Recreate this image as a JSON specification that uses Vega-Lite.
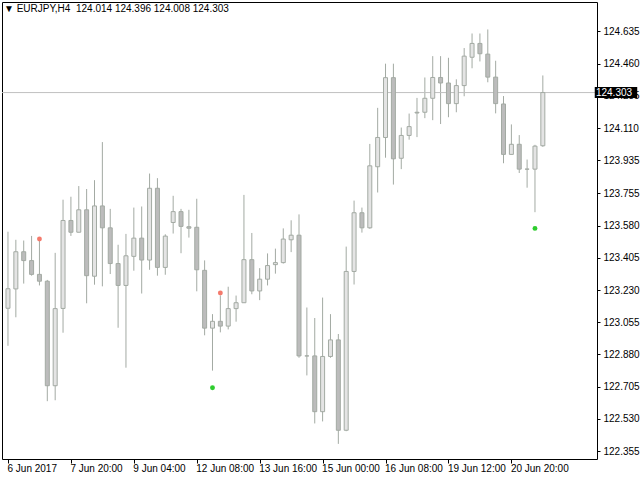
{
  "$schema": "https://vega.github.io/schema/vega-lite/v6.json",
  "width": 595,
  "height": 457,
  "autosize": {"type": "none"},
  "padding": {"left": 2, "top": 2, "right": 43, "bottom": 21},
  "background": "white",
  "title": {
    "text": "▼ EURJPY,H4\u00a0\u00a0124.014 124.396 124.008 124.303",
    "anchor": "start",
    "frame": "group",
    "offset": -12,
    "dx": 2,
    "font": "Liberation Sans",
    "fontSize": 10,
    "fontWeight": "normal",
    "color": "black"
  },
  "config": {
    "view": {"stroke": "black", "strokeWidth": 1},
    "axis": {
      "labelFont": "Liberation Sans",
      "labelFontSize": 10,
      "labelColor": "black",
      "tickColor": "black",
      "domain": false,
      "grid": false,
      "title": null,
      "labelOverlap": false,
      "labelFlush": false,
      "labelBound": false
    }
  },
  "datasets": {
    "bars": [
      {"i": 0, "o": 123.131, "h": 123.547, "l": 122.927, "c": 123.237},
      {"i": 1, "o": 123.236, "h": 123.503, "l": 123.082, "c": 123.438},
      {"i": 2, "o": 123.438, "h": 123.499, "l": 123.265, "c": 123.390},
      {"i": 3, "o": 123.390, "h": 123.524, "l": 123.308, "c": 123.315},
      {"i": 4, "o": 123.315, "h": 123.507, "l": 123.255, "c": 123.278},
      {"i": 5, "o": 123.278, "h": 123.285, "l": 122.626, "c": 122.710},
      {"i": 6, "o": 122.710, "h": 123.432, "l": 122.631, "c": 123.129},
      {"i": 7, "o": 123.130, "h": 123.721, "l": 122.998, "c": 123.608},
      {"i": 8, "o": 123.608, "h": 123.737, "l": 123.524, "c": 123.544},
      {"i": 9, "o": 123.544, "h": 123.795, "l": 123.544, "c": 123.666},
      {"i": 10, "o": 123.666, "h": 123.779, "l": 123.158, "c": 123.308},
      {"i": 11, "o": 123.305, "h": 123.827, "l": 123.259, "c": 123.687},
      {"i": 12, "o": 123.687, "h": 124.034, "l": 123.250, "c": 123.568},
      {"i": 13, "o": 123.568, "h": 123.671, "l": 123.317, "c": 123.374},
      {"i": 14, "o": 123.374, "h": 123.476, "l": 123.025, "c": 123.255},
      {"i": 15, "o": 123.255, "h": 123.535, "l": 122.808, "c": 123.416},
      {"i": 16, "o": 123.413, "h": 123.678, "l": 123.335, "c": 123.512},
      {"i": 17, "o": 123.512, "h": 123.684, "l": 123.211, "c": 123.393},
      {"i": 18, "o": 123.393, "h": 123.863, "l": 123.340, "c": 123.783},
      {"i": 19, "o": 123.783, "h": 123.838, "l": 123.308, "c": 123.353},
      {"i": 20, "o": 123.353, "h": 123.533, "l": 123.313, "c": 123.523},
      {"i": 21, "o": 123.597, "h": 123.742, "l": 123.537, "c": 123.656},
      {"i": 22, "o": 123.656, "h": 123.671, "l": 123.430, "c": 123.576},
      {"i": 23, "o": 123.574, "h": 123.666, "l": 123.515, "c": 123.566},
      {"i": 24, "o": 123.571, "h": 123.726, "l": 123.223, "c": 123.340},
      {"i": 25, "o": 123.337, "h": 123.391, "l": 122.984, "c": 123.023},
      {"i": 26, "o": 123.023, "h": 123.099, "l": 122.792, "c": 123.060},
      {"i": 27, "o": 123.060, "h": 123.200, "l": 123.000, "c": 123.034},
      {"i": 28, "o": 123.034, "h": 123.248, "l": 123.016, "c": 123.129},
      {"i": 29, "o": 123.129, "h": 123.200, "l": 123.058, "c": 123.161},
      {"i": 30, "o": 123.161, "h": 123.747, "l": 123.161, "c": 123.395},
      {"i": 31, "o": 123.395, "h": 123.540, "l": 123.207, "c": 123.225},
      {"i": 32, "o": 123.225, "h": 123.349, "l": 123.175, "c": 123.289},
      {"i": 33, "o": 123.289, "h": 123.429, "l": 123.255, "c": 123.363},
      {"i": 34, "o": 123.368, "h": 123.455, "l": 123.319, "c": 123.379},
      {"i": 35, "o": 123.379, "h": 123.565, "l": 123.374, "c": 123.507},
      {"i": 36, "o": 123.503, "h": 123.609, "l": 123.436, "c": 123.528},
      {"i": 37, "o": 123.528, "h": 123.641, "l": 122.862, "c": 122.872},
      {"i": 38, "o": 122.872, "h": 123.135, "l": 122.766, "c": 122.872},
      {"i": 39, "o": 122.872, "h": 123.078, "l": 122.505, "c": 122.569},
      {"i": 40, "o": 122.569, "h": 123.189, "l": 122.516, "c": 122.869},
      {"i": 41, "o": 122.869, "h": 123.099, "l": 122.862, "c": 122.959},
      {"i": 42, "o": 122.959, "h": 122.991, "l": 122.394, "c": 122.468},
      {"i": 43, "o": 122.468, "h": 123.466, "l": 122.463, "c": 123.331},
      {"i": 44, "o": 123.331, "h": 123.716, "l": 123.260, "c": 123.650},
      {"i": 45, "o": 123.650, "h": 123.678, "l": 123.542, "c": 123.568},
      {"i": 46, "o": 123.568, "h": 124.024, "l": 123.563, "c": 123.905},
      {"i": 47, "o": 123.900, "h": 124.220, "l": 123.760, "c": 124.059},
      {"i": 48, "o": 124.059, "h": 124.460, "l": 123.949, "c": 124.384},
      {"i": 49, "o": 124.384, "h": 124.460, "l": 123.803, "c": 123.943},
      {"i": 50, "o": 123.946, "h": 124.113, "l": 123.887, "c": 124.070},
      {"i": 51, "o": 124.070, "h": 124.189, "l": 124.047, "c": 124.118},
      {"i": 52, "o": 124.196, "h": 124.274, "l": 124.061, "c": 124.192},
      {"i": 53, "o": 124.196, "h": 124.385, "l": 124.164, "c": 124.272},
      {"i": 54, "o": 124.272, "h": 124.501, "l": 124.153, "c": 124.385},
      {"i": 55, "o": 124.385, "h": 124.501, "l": 124.132, "c": 124.355},
      {"i": 56, "o": 124.355, "h": 124.492, "l": 124.169, "c": 124.243},
      {"i": 57, "o": 124.243, "h": 124.375, "l": 124.196, "c": 124.341},
      {"i": 58, "o": 124.341, "h": 124.545, "l": 124.283, "c": 124.501},
      {"i": 59, "o": 124.495, "h": 124.624, "l": 124.435, "c": 124.570},
      {"i": 60, "o": 124.570, "h": 124.624, "l": 124.472, "c": 124.514},
      {"i": 61, "o": 124.512, "h": 124.646, "l": 124.359, "c": 124.387},
      {"i": 62, "o": 124.387, "h": 124.476, "l": 124.190, "c": 124.243},
      {"i": 63, "o": 124.241, "h": 124.284, "l": 123.919, "c": 123.967},
      {"i": 64, "o": 123.967, "h": 124.130, "l": 123.967, "c": 124.022},
      {"i": 65, "o": 124.022, "h": 124.072, "l": 123.866, "c": 123.887},
      {"i": 66, "o": 123.887, "h": 123.939, "l": 123.786, "c": 123.887},
      {"i": 67, "o": 123.887, "h": 124.019, "l": 123.653, "c": 124.012},
      {"i": 68, "o": 124.014, "h": 124.396, "l": 124.008, "c": 124.303}
    ],
    "signals": [
      {"i": 4, "p": 123.507, "kind": "sell"},
      {"i": 26, "p": 122.699, "kind": "buy"},
      {"i": 27, "p": 123.214, "kind": "sell"},
      {"i": 67, "p": 123.565, "kind": "buy"}
    ],
    "last": [
      {"price": 124.303, "label": "124.303"}
    ]
  },
  "layer": [
    {
      "data": {"name": "bars"},
      "mark": {"type": "rule", "color": "#a3aaa3", "strokeWidth": 1, "clip": true},
      "encoding": {
        "x": {
          "field": "i",
          "type": "quantitative",
          "scale": {"domain": [-0.125, 74.25], "nice": false, "zero": false},
          "axis": {
            "orient": "bottom",
            "values": [0, 8, 16, 24, 32, 40, 48, 56, 64],
            "tickCount": 20,
            "labelExpr": "['6 Jun 2017','7 Jun 20:00','9 Jun 04:00','12 Jun 08:00','13 Jun 16:00','15 Jun 00:00','16 Jun 08:00','19 Jun 12:00','20 Jun 20:00'][round(datum.value / 8)]",
            "labelAlign": "left",
            "labelBaseline": "top",
            "labelPadding": 0,
            "labelOffset": -1,
            "tickSize": 4
          }
        },
        "y": {
          "field": "l",
          "type": "quantitative",
          "scale": {"domain": [122.339, 124.768], "nice": false, "zero": false},
          "axis": {
            "orient": "right",
            "values": [124.635, 124.46, 124.285, 124.11, 123.935, 123.755, 123.58, 123.405, 123.23, 123.055, 122.88, 122.705, 122.53, 122.355],
            "tickCount": 30,
            "format": ".3f",
            "tickSize": 3,
            "labelPadding": 3,
            "labelAlign": "left",
            "labelBaseline": "middle"
          }
        },
        "y2": {"field": "h"}
      }
    },
    {
      "data": {"name": "last"},
      "mark": {"type": "rule", "color": "#c0c0c0", "strokeWidth": 1},
      "encoding": {"y": {"field": "price", "type": "quantitative"}}
    },
    {
      "data": {"name": "bars"},
      "mark": {"type": "bar", "width": 4, "stroke": "#a3aaa3", "strokeWidth": 1, "clip": true},
      "encoding": {
        "x": {"field": "i", "type": "quantitative"},
        "y": {"field": "o", "type": "quantitative"},
        "y2": {"field": "c"},
        "fill": {
          "condition": {"test": "datum.c >= datum.o", "value": "#e4e4e4"},
          "value": "#bcbcbc"
        }
      }
    },
    {
      "data": {"name": "signals"},
      "mark": {"type": "point", "filled": true, "shape": "circle", "size": 24, "opacity": 1},
      "encoding": {
        "x": {"field": "i", "type": "quantitative"},
        "y": {"field": "p", "type": "quantitative"},
        "color": {
          "field": "kind",
          "type": "nominal",
          "scale": {"domain": ["sell", "buy"], "range": ["#f47a6c", "#2ecc2e"]},
          "legend": null
        }
      }
    },
    {
      "data": {"name": "last"},
      "mark": {"type": "bar", "color": "black", "size": 11, "clip": false},
      "encoding": {
        "x": {"datum": 74.6},
        "x2": {"datum": 80},
        "y": {"field": "price", "type": "quantitative"}
      }
    },
    {
      "data": {"name": "last"},
      "mark": {"type": "text", "color": "white", "font": "Liberation Sans", "fontSize": 10, "align": "left", "baseline": "middle", "clip": false},
      "encoding": {
        "x": {"datum": 74.75},
        "y": {"field": "price", "type": "quantitative"},
        "text": {"field": "label"}
      }
    }
  ]
}
